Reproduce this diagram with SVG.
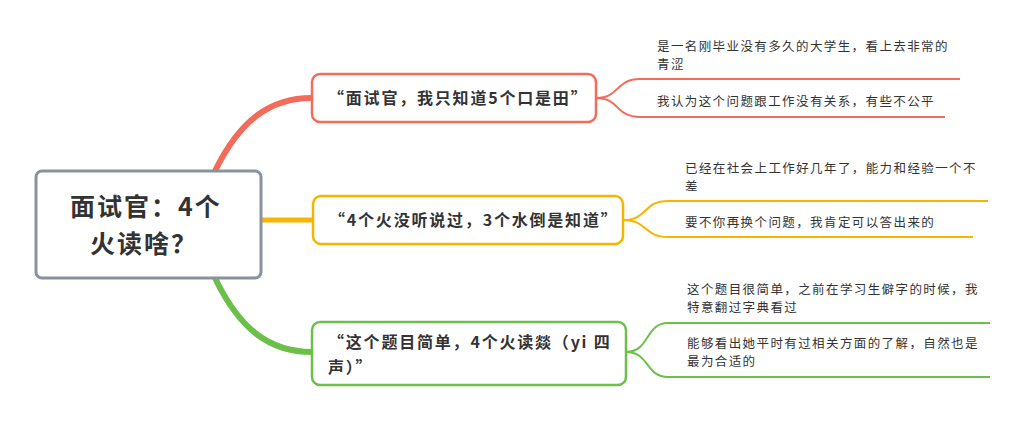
<svg xmlns="http://www.w3.org/2000/svg" width="1035" height="424" viewBox="0 0 1035 424">
<style>
.t{font-family:"Noto Sans CJK SC","Liberation Sans",sans-serif;fill:#333}
.c{font-size:25px;font-weight:bold;letter-spacing:2px}
.n{font-size:16px;font-weight:bold;letter-spacing:1.8px}
.s{font-size:12.5px;letter-spacing:1.4px}
.w{fill:#fff;stroke-width:2.5}
.l{fill:none;stroke-width:2}
</style>
<rect width="1035" height="424" fill="#fff"/>
<g id="connectors" fill="none">
<path d="M215,171 C240,120 270,98 312,98" stroke="#f26b5b" stroke-width="6"/>
<path d="M261,220 L313,220" stroke="#f7b500" stroke-width="5"/>
<path d="M215,278 C240,330 270,352 312,352" stroke="#6cc04a" stroke-width="6"/>
<path class="l" stroke="#f26b5b" d="M596,98 C620,98 615,79 640,79 L960,79 M596,98 C620,98 615,117 640,117 L945,117"/>
<path class="l" stroke="#f7b500" d="M623,220 C648,220 643,201 668,201 L988,201 M623,220 C648,220 643,237 668,237 L973,237"/>
<path class="l" stroke="#6cc04a" d="M626,352 C650,352 645,323 668,323 L990,323 M626,352 C650,352 645,377 668,377 L990,377"/>
</g>
<g id="center">
<rect x="36" y="171" width="225" height="107" rx="6" fill="#fff" stroke="#8a92a0" stroke-width="3"/>
<text class="t c" x="70" y="216">面试官：4个</text>
<text class="t c" x="90" y="253">火读啥？</text>
</g>
<g id="n1">
<rect class="w" x="312" y="74" width="284" height="48" rx="8" stroke="#f26b5b"/>
<text class="t n" x="328" y="104">“面试官，我只知道5个口是田”</text>
</g>
<g id="n2">
<rect class="w" x="313" y="196" width="310" height="48" rx="8" stroke="#f7b500"/>
<text class="t n" x="329" y="226">“4个火没听说过，3个水倒是知道”</text>
</g>
<g id="n3">
<rect class="w" x="312" y="322" width="314" height="63" rx="8" stroke="#6cc04a"/>
<text class="t n" x="328" y="348">“这个题目简单，4个火读燚（yi 四</text>
<text class="t n" x="328" y="373">声）”</text>
</g>
<g id="l1"><text class="t s" x="657" y="51">是一名刚毕业没有多久的大学生，看上去非常的</text><text class="t s" x="657" y="69">青涩</text></g>
<g id="l2"><text class="t s" x="657" y="106">我认为这个问题跟工作没有关系，有些不公平</text></g>
<g id="l3"><text class="t s" x="685" y="173">已经在社会上工作好几年了，能力和经验一个不</text><text class="t s" x="685" y="191">差</text></g>
<g id="l4"><text class="t s" x="685" y="227">要不你再换个问题，我肯定可以答出来的</text></g>
<g id="l5"><text class="t s" x="687" y="294">这个题目很简单，之前在学习生僻字的时候，我</text><text class="t s" x="687" y="312">特意翻过字典看过</text></g>
<g id="l6"><text class="t s" x="687" y="348">能够看出她平时有过相关方面的了解，自然也是</text><text class="t s" x="687" y="366">最为合适的</text></g>
</svg>
